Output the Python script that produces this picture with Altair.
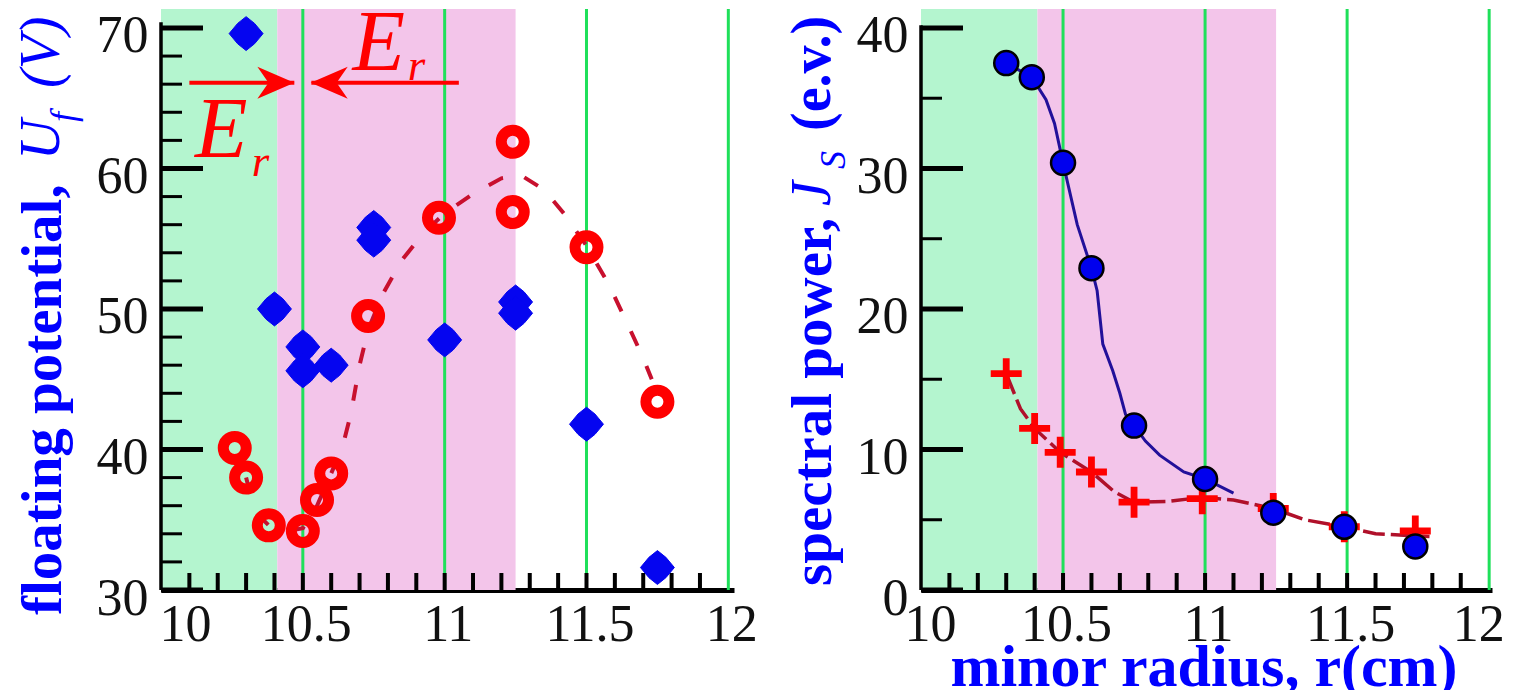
import altair as alt
import pandas as pd

# ---------------- shared ----------------
X_LABELS = [10, 10.5, 11, 11.5, 12]
X_TICKS = [10.1, 10.2, 10.3, 10.4, 10.5, 10.6, 10.7, 10.8, 10.9, 11.0,
           11.1, 11.2, 11.3, 11.4, 11.5, 11.6, 11.7, 11.8, 11.9]
GREEN_LINES = [10.5, 11.0, 11.5, 12.0]
BAND_START = [10.0, 10.41]
BAND_END = [10.41, 11.25]
BAND_COLOR = ["#b4f5cf", "#f3c5ea"]

# ---------------- left panel: floating potential ----------------
L_Y_LABELS = [30, 40, 50, 60, 70]
L_Y_MINOR = [32, 34, 36, 38, 42, 44, 46, 48, 52, 54, 56, 58, 62, 64, 66, 68]
L_DIAMOND_R = [10.30, 10.40, 10.50, 10.50, 10.60, 10.75, 10.75, 11.00, 11.25, 11.25, 11.50, 11.75]
L_DIAMOND_U = [69.6, 50.0, 47.3, 45.6, 46.0, 55.8, 54.9, 47.8, 50.5, 49.7, 41.8, 31.6]
L_RING_R = [10.26, 10.30, 10.38, 10.50, 10.55, 10.60, 10.73, 10.98, 11.24, 11.24, 11.50, 11.75]
L_RING_U = [40.1, 38.0, 34.6, 34.2, 36.4, 38.3, 49.5, 56.5, 61.9, 56.9, 54.4, 43.4]
L_FIT_R = [10.30, 10.33, 10.38, 10.45, 10.50, 10.55, 10.60, 10.64, 10.67, 10.70, 10.73, 10.78,
           10.85, 10.93, 11.00, 11.10, 11.20, 11.27, 11.35, 11.42, 11.50, 11.58, 11.65, 11.70, 11.73]
L_FIT_U = [38.0, 35.6, 34.6, 34.2, 34.4, 36.0, 38.3, 40.2, 42.6, 46.0, 48.5, 51.0,
           53.5, 55.5, 56.8, 58.2, 59.3, 59.5, 58.5, 56.8, 54.5, 51.7, 48.7, 46.5, 45.0]
ARROW_TAIL_R = [10.10, 11.05]
ARROW_TIP_R = [10.47, 10.53]
ARROW_HEAD_R = [10.405, 10.593]
ARROW_U = [66.1, 66.1]
ER_BIG_R = [10.12, 10.675]
ER_BIG_U = [60.8, 67.0]
ER_SUB_R = [10.32, 10.87]
ER_SUB_U = [59.5, 66.3]
TITLE_LEFT = ["floating potential,", "U", "f", "(V)"]

# ---------------- right panel: spectral power ----------------
R_Y_LABELS = [0, 10, 20, 30, 40]
R_Y_MINOR = [5, 15, 25, 35]
R_CIRCLE_R = [10.30, 10.39, 10.50, 10.60, 10.75, 11.00, 11.24, 11.49, 11.74]
R_CIRCLE_J = [37.5, 36.5, 30.4, 22.9, 11.7, 7.9, 5.5, 4.5, 3.1]
R_CROSS_R = [10.30, 10.40, 10.49, 10.60, 10.75, 10.99, 11.24, 11.49, 11.74]
R_CROSS_J = [15.4, 11.5, 9.8, 8.4, 6.25, 6.5, 5.8, 4.5, 4.2]
R_BLUE_FIT_R = [10.30, 10.39, 10.44, 10.47, 10.50, 10.55, 10.60, 10.62, 10.64, 10.675,
                10.70, 10.72, 10.75, 10.79, 10.84, 10.925, 11.00, 11.10]
R_BLUE_FIT_J = [37.5, 36.5, 34.9, 33.2, 30.4, 26.0, 22.9, 21.3, 17.5, 15.6,
                14.0, 12.5, 11.7, 10.6, 9.6, 8.4, 7.9, 6.9]
R_RED_FIT_R = [10.30, 10.35, 10.40, 10.49, 10.60, 10.68, 10.75, 10.87, 10.99, 11.10,
               11.24, 11.35, 11.49, 11.60, 11.79]
R_RED_FIT_J = [15.4, 12.9, 11.5, 9.8, 8.4, 7.0, 6.25, 6.3, 6.6, 6.4,
               5.8, 5.0, 4.5, 4.0, 3.8]
TITLE_RIGHT = ["spectral power,", "J", "S", "(e.v.)"]
X_TITLE = "minor radius, r(cm)"

# ---------------- geometry / style ----------------
W_L, W_R, H = 573, 571, 581
SERIF = "Liberation Serif"
BLUE = "#0000ff"
RED = "#ff0000"
DIAMOND = "M-1,0L-0.5,-0.6L0,-1L0.5,-0.6L1,0L0.5,0.6L0,1L-0.5,0.6Z"
PLUS = ("M-1,-0.22L-0.22,-0.22L-0.22,-1L0.22,-1L0.22,-0.22L1,-0.22L1,0.22L0.22,0.22"
        "L0.22,1L-0.22,1L-0.22,0.22L-1,0.22Z")
HEAD_RIGHT = "M1,0L-1,-0.86L-0.4,0L-1,0.86Z"
HEAD_LEFT = "M-1,0L1,-0.86L0.4,0L1,0.86Z"


def x_enc(field, scale, offset_10, offset_12):
    return alt.X(field, type="quantitative", scale=scale, axis=alt.Axis(
        values=X_LABELS, labelExpr="datum.value", ticks=False, tickSize=0, grid=False,
        domain=True, domainColor="black", domainWidth=5, title=None,
        labelFont=SERIF, labelFontSize=52, labelColor="#111111", labelPadding=9,
        labelAlign="center", labelBaseline="top",
        labelOffset={"condition": [{"test": "datum.value == 10", "value": offset_10},
                                   {"test": "datum.value == 12", "value": offset_12}], "value": 3},
    ))


def y_enc(field, scale, values):
    return alt.Y(field, type="quantitative", scale=scale, axis=alt.Axis(
        values=values, labelExpr="datum.value", ticks=False, tickSize=0, grid=False,
        domain=False, title=None,
        labelFont=SERIF, labelFontSize=52, labelColor="#111111", labelPadding=13,
        labelAlign="right", labelBaseline="top", labelOffset=-17,
    ))


def text_piece(txt, x, y, size, weight="normal", style="normal", color=BLUE, angle=270):
    return alt.Chart(pd.DataFrame({"t": [txt]})).mark_text(
        font=SERIF, fontSize=size, fontWeight=weight, fontStyle=style, color=color,
        angle=angle, align="left", baseline="alphabetic",
    ).encode(text="t:N", x=alt.value(x), y=alt.value(y))


def frame_layers(xs, ys, y_labels, y_minor, y_axis_top, offset_10, offset_12):
    X = lambda f: x_enc(f, xs, offset_10, offset_12)
    Y = lambda f: y_enc(f, ys, y_labels)
    bands = alt.Chart(pd.DataFrame({"a": BAND_START, "b": BAND_END, "c": BAND_COLOR})).mark_rect().encode(
        x=X("a"), x2="b", y=alt.value(0), y2=alt.value(H), color=alt.Color("c:N", scale=None))
    glines = alt.Chart(pd.DataFrame({"r": GREEN_LINES})).mark_rule(color="#1fe05a", strokeWidth=3).encode(
        x=X("r"), y=alt.value(0), y2=alt.value(H))
    xt = alt.Chart(pd.DataFrame({"r": X_TICKS})).mark_rule(color="black", strokeWidth=4).encode(
        x=X("r"), y=alt.value(H), y2=alt.value(H - 17))
    ymaj = alt.Chart(pd.DataFrame({"v": y_labels})).mark_rule(color="black", strokeWidth=5).encode(
        y=Y("v"), x=alt.value(0), x2=alt.value(42))
    ymin = alt.Chart(pd.DataFrame({"v": y_minor})).mark_rule(color="black", strokeWidth=3).encode(
        y=Y("v"), x=alt.value(0), x2=alt.value(21))
    yline = alt.Chart(pd.DataFrame({"v0": [y_labels[0]], "v1": [y_axis_top]})).mark_rule(
        color="black", strokeWidth=3.5).encode(y=Y("v0"), y2="v1", x=alt.value(0))
    return X, Y, [bands, glines, xt, ymaj, ymin, yline]


# ---------------- left chart ----------------
xs_L = alt.Scale(domain=[10, 12.02], nice=False, zero=False)
ys_L = alt.Scale(domain=[30, 71.35], nice=False, zero=False)
XL, YL, base_L = frame_layers(xs_L, ys_L, L_Y_LABELS, L_Y_MINOR, 70.4, 24, 3)

fit_L = alt.Chart(pd.DataFrame({"r": L_FIT_R, "u": L_FIT_U})).mark_line(
    color="#c8102e", strokeWidth=4, strokeDash=[16, 22]).encode(x=XL("r"), y=YL("u"), order="r:Q")
rings = alt.Chart(pd.DataFrame({"r": L_RING_R, "u": L_RING_U})).mark_point(
    shape="circle", filled=False, stroke=RED, strokeWidth=11, size=529, opacity=1).encode(
    x=XL("r"), y=YL("u"))
diamonds = alt.Chart(pd.DataFrame({"r": L_DIAMOND_R, "u": L_DIAMOND_U})).mark_point(
    shape=DIAMOND, filled=True, fill="#0505f0", stroke="#0505f0", strokeWidth=1, size=1150, opacity=1).encode(
    x=XL("r"), y=YL("u"))
arrow_lines = alt.Chart(pd.DataFrame({"a": ARROW_TAIL_R, "b": ARROW_TIP_R, "u": ARROW_U})).mark_rule(
    color=RED, strokeWidth=4).encode(x=XL("a"), x2="b", y=YL("u"))
arrow_heads = alt.Chart(pd.DataFrame({"r": ARROW_HEAD_R, "u": ARROW_U, "s": [HEAD_RIGHT, HEAD_LEFT]})).mark_point(
    filled=True, fill=RED, strokeWidth=0, size=1369, opacity=1).encode(
    x=XL("r"), y=YL("u"), shape=alt.Shape("s:N", scale=None))
er_big = alt.Chart(pd.DataFrame({"r": ER_BIG_R, "u": ER_BIG_U, "t": ["E", "E"]})).mark_text(
    font=SERIF, fontStyle="italic", fontSize=86, color=RED, align="left", baseline="alphabetic").encode(
    x=XL("r"), y=YL("u"), text="t:N")
er_sub = alt.Chart(pd.DataFrame({"r": ER_SUB_R, "u": ER_SUB_U, "t": ["r", "r"]})).mark_text(
    font=SERIF, fontStyle="italic", fontSize=45, color=RED, align="left", baseline="alphabetic").encode(
    x=XL("r"), y=YL("u"), text="t:N")

title_L = [
    text_piece(TITLE_LEFT[0], -100, 606, 57, weight="bold"),
    text_piece(TITLE_LEFT[1], -102, 151, 56, style="italic"),
    text_piece(TITLE_LEFT[2], -86, 113, 36, style="italic"),
    text_piece(TITLE_LEFT[3], -102, 79, 56, style="italic"),
]

left = alt.layer(*base_L, fit_L, rings, diamonds, arrow_lines, arrow_heads, er_big, er_sub, *title_L).properties(
    width=W_L, height=H)

# ---------------- right chart ----------------
xs_R = alt.Scale(domain=[10, 12.01], nice=False, zero=False)
ys_R = alt.Scale(domain=[0, 41.35], nice=False, zero=False)
XR, YR, base_R = frame_layers(xs_R, ys_R, R_Y_LABELS, R_Y_MINOR, 40.2, 9, -11)

blue_fit = alt.Chart(pd.DataFrame({"r": R_BLUE_FIT_R, "j": R_BLUE_FIT_J})).mark_line(
    color="#22109a", strokeWidth=3).encode(x=XR("r"), y=YR("j"), order="r:Q")
red_fit = alt.Chart(pd.DataFrame({"r": R_RED_FIT_R, "j": R_RED_FIT_J})).mark_line(
    color="#b0102a", strokeWidth=3.5, strokeDash=[22, 6]).encode(x=XR("r"), y=YR("j"), order="r:Q")
crosses = alt.Chart(pd.DataFrame({"r": R_CROSS_R, "j": R_CROSS_J})).mark_point(
    shape=PLUS, filled=True, fill=RED, strokeWidth=0, size=960, opacity=1).encode(x=XR("r"), y=YR("j"))
circles = alt.Chart(pd.DataFrame({"r": R_CIRCLE_R, "j": R_CIRCLE_J})).mark_point(
    shape="circle", filled=True, fill="#0000ee", stroke="black", strokeWidth=2.5, size=576, opacity=1).encode(
    x=XR("r"), y=YR("j"))

title_R = [
    text_piece(TITLE_RIGHT[0], -90, 577, 57, weight="bold"),
    text_piece(TITLE_RIGHT[1], -91, 197, 56, style="italic"),
    text_piece(TITLE_RIGHT[2], -76, 160, 36, style="italic"),
    text_piece(TITLE_RIGHT[3], -91, 122, 56, weight="bold"),
]
x_title = alt.Chart(pd.DataFrame({"t": [X_TITLE]})).mark_text(
    font=SERIF, fontSize=60, fontWeight="bold", color=BLUE, align="center", baseline="alphabetic").encode(
    text="t:N", x=alt.value(283), y=alt.value(677))

right = alt.layer(*base_R, blue_fit, red_fit, crosses, circles, *title_R, x_title).properties(
    width=W_R, height=H)

chart = alt.hconcat(left, right, spacing=187, bounds="flush").properties(
    padding={"left": 6, "top": -7, "right": 0, "bottom": -8},
    background="white",
).configure_view(stroke=None)

chart.save("out.html", embed_options={"renderer": "svg", "actions": False})
